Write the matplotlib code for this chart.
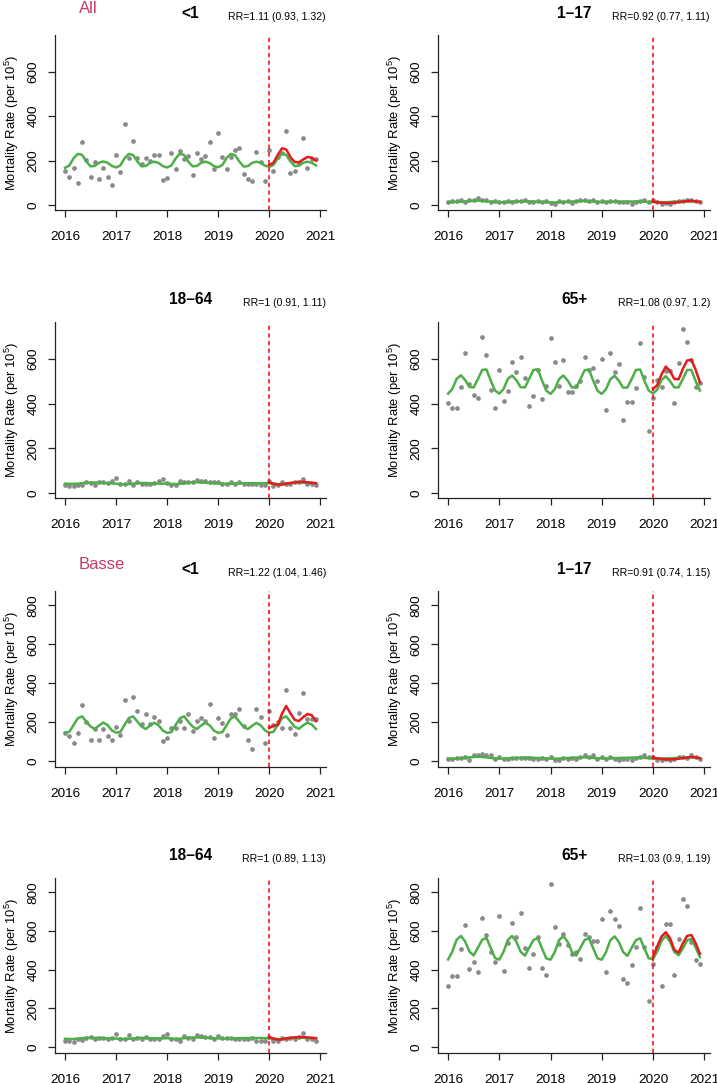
import numpy as np
import matplotlib.pyplot as plt

plt.rcParams['font.family'] = ['Liberation Sans', 'DejaVu Sans']
plt.rcParams['mathtext.default'] = 'regular'

# monthly time axis, Jan 2016 - Dec 2020
t = 2016 + np.arange(60) / 12.0
t2020 = t[48:]

years = [2016, 2017, 2018, 2019, 2020, 2021]
yticks_all = [0, 200, 400, 600]
yticks_basse = [0, 200, 400, 600, 800]

#
# All
#
all_lt1_obs = [154, 128, 167, 101, 284, 204, 128, 194, 116, 167, 128, 88,
               225, 149, 363, 212, 288, 212, 185, 212, 200, 225, 225, 112,
               122, 233, 160, 245, 206, 221, 134, 233, 207, 219, 284, 160,
               324, 215, 161, 215, 248, 258, 140, 119, 107, 237, 194, 107,
               246, 154, 215, 232, 333, 143, 154, 187, 300, 166, 205, 209]
all_lt1_fit = [167, 178, 210, 230, 226, 196, 174, 176, 190, 196, 190, 176,
               169, 178, 210, 230, 225, 196, 174, 176, 190, 195, 189, 175,
               169, 178, 209, 231, 225, 195, 174, 176, 190, 195, 189, 175,
               170, 180, 212, 230, 224, 195, 173, 175, 190, 195, 190, 177,
               172, 180, 210, 232, 225, 196, 175, 177, 190, 195, 190, 178]
all_lt1_2020 = [180, 190, 225, 255, 250, 215, 193, 192, 205, 216, 213, 200]

all_1_17_obs = [15, 18, 18, 21, 15, 25, 25, 30, 25, 21, 15, 18,
                15, 15, 18, 15, 18, 18, 21, 15, 12, 18, 12, 18,
                10, 7, 18, 12, 18, 10, 18, 21, 21, 18, 25, 15,
                18, 12, 18, 18, 12, 12, 15, 7, 15, 18, 21, 12,
                21, 12, 7, 10, 7, 12, 18, 18, 21, 25, 18, 12]
all_1_17_fit = [13, 13, 14, 15, 16, 18, 19, 20, 19, 17, 15, 14,
                13, 13, 14, 15, 16, 16, 17, 17, 16, 15, 14, 13,
                12, 12, 13, 14, 15, 16, 17, 18, 18, 17, 16, 15,
                14, 14, 14, 15, 15, 15, 16, 16, 16, 16, 15, 14,
                14, 13, 13, 13, 14, 15, 16, 17, 17, 17, 16, 15]
all_1_17_2020 = [15, 13, 11, 10, 10, 11, 13, 16, 18, 19, 17, 14]

all_18_64_obs = [34, 31, 30, 37, 37, 51, 46, 37, 51, 51, 46, 54,
                 67, 40, 40, 54, 34, 48, 40, 40, 40, 45, 54, 61,
                 45, 37, 37, 54, 51, 48, 51, 57, 54, 54, 51, 48,
                 51, 42, 42, 48, 40, 48, 42, 42, 40, 40, 37, 37,
                 54, 31, 34, 51, 42, 42, 48, 48, 61, 42, 42, 34]
all_18_64_fit = [42, 41, 41, 42, 44, 46, 47, 47, 46, 45, 44, 43,
                 42, 40, 39, 40, 42, 44, 45, 45, 44, 43, 42, 42,
                 43, 41, 40, 41, 43, 46, 48, 48, 47, 46, 45, 44,
                 43, 42, 41, 41, 42, 43, 44, 44, 44, 44, 44, 44,
                 44, 42, 40, 40, 42, 44, 46, 46, 46, 45, 45, 44]
all_18_64_2020 = [47, 42, 38, 38, 42, 45, 47, 50, 50, 48, 46, 44]

all_65_obs = [402, 378, 378, 473, 625, 485, 438, 426, 697, 615, 462, 378,
              551, 411, 457, 585, 539, 609, 515, 387, 433, 548, 421, 479,
              691, 584, 476, 596, 453, 453, 480, 500, 608, 550, 560, 500,
              600, 372, 624, 540, 576, 325, 408, 408, 468, 672, 518, 277,
              426, 506, 473, 543, 545, 404, 581, 735, 675, 595, 473, 493]
all_65_fit = [444, 465, 510, 526, 505, 474, 472, 510, 550, 552, 502, 458,
              444, 465, 510, 525, 504, 473, 472, 510, 550, 553, 503, 458,
              443, 464, 509, 525, 503, 472, 471, 509, 549, 552, 502, 457,
              443, 464, 508, 524, 502, 471, 471, 509, 550, 552, 502, 458,
              445, 462, 505, 522, 500, 472, 472, 510, 550, 550, 500, 458]
all_65_2020 = [465, 482, 530, 565, 545, 510, 508, 555, 592, 596, 550, 495]

#
# Basse
#
basse_lt1_obs = [146, 127, 91, 146, 290, 200, 110, 163, 110, 163, 127, 110,
                 173, 135, 312, 206, 329, 259, 189, 242, 190, 225, 207, 105,
                 120, 171, 171, 206, 170, 240, 154, 206, 223, 206, 291, 120,
                 223, 194, 135, 240, 240, 269, 178, 106, 62, 269, 225, 91,
                 259, 183, 200, 168, 367, 168, 139, 245, 351, 214, 214, 214]
basse_lt1_fit = [146, 150, 185, 220, 230, 203, 178, 165, 183, 198, 185, 158,
                 146, 150, 186, 221, 230, 203, 177, 165, 183, 197, 184, 157,
                 145, 149, 185, 220, 230, 202, 177, 165, 183, 197, 184, 157,
                 145, 149, 185, 220, 229, 202, 176, 164, 182, 196, 184, 158,
                 146, 150, 186, 220, 230, 203, 176, 166, 184, 197, 188, 165]
basse_lt1_2020 = [170, 182, 185, 243, 283, 245, 212, 206, 226, 242, 236, 205]

basse_1_17_obs = [12, 12, 17, 17, 21, 3, 29, 29, 38, 29, 29, 12,
                  21, 12, 12, 17, 17, 17, 17, 17, 12, 12, 17, 12,
                  21, 7, 7, 17, 12, 17, 12, 21, 29, 21, 29, 12,
                  21, 12, 21, 12, 7, 12, 12, 3, 17, 21, 29, 21,
                  21, 7, 3, 12, 7, 12, 21, 21, 17, 29, 21, 12]
basse_1_17_fit = [12, 12, 13, 15, 17, 19, 21, 22, 21, 19, 16, 14,
                  13, 13, 14, 15, 16, 17, 18, 18, 17, 16, 15, 14,
                  13, 12, 13, 14, 16, 17, 18, 19, 19, 18, 16, 15,
                  14, 14, 14, 15, 16, 17, 17, 18, 18, 17, 16, 15,
                  14, 13, 13, 13, 14, 15, 17, 18, 19, 19, 17, 15]
basse_1_17_2020 = [16, 14, 11, 9, 9, 10, 12, 15, 18, 21, 19, 15]

basse_18_64_obs = [31, 31, 26, 43, 36, 48, 52, 43, 48, 48, 43, 48,
                   69, 43, 40, 60, 40, 48, 40, 52, 40, 40, 40, 57,
                   69, 43, 40, 31, 55, 48, 43, 62, 55, 52, 52, 43,
                   55, 48, 48, 48, 40, 40, 43, 40, 48, 31, 34, 31,
                   52, 34, 31, 48, 43, 48, 43, 52, 74, 43, 40, 34]
basse_18_64_fit = [43, 42, 42, 44, 46, 48, 49, 48, 47, 46, 45, 44,
                   44, 43, 42, 43, 45, 47, 48, 47, 46, 46, 45, 45,
                   46, 44, 42, 43, 46, 49, 50, 50, 49, 48, 47, 46,
                   45, 44, 43, 44, 45, 46, 47, 47, 47, 47, 47, 46,
                   46, 44, 42, 42, 44, 46, 48, 48, 48, 47, 47, 46]
basse_18_64_2020 = [50, 44, 38, 40, 45, 48, 50, 52, 52, 50, 48, 46]

basse_65_obs = [314, 369, 369, 508, 634, 402, 440, 386, 668, 580, 491, 440,
                677, 391, 536, 640, 570, 694, 515, 409, 481, 570, 409, 373,
                841, 622, 531, 586, 529, 481, 494, 455, 586, 568, 548, 548,
                664, 388, 702, 664, 628, 350, 331, 424, 517, 721, 517, 240,
                429, 520, 316, 635, 635, 373, 561, 764, 730, 541, 448, 429]
basse_65_fit = [453, 494, 555, 575, 546, 494, 474, 515, 555, 565, 512, 460,
                452, 493, 554, 575, 545, 493, 473, 514, 554, 564, 511, 459,
                452, 492, 553, 574, 545, 493, 473, 514, 554, 564, 511, 459,
                452, 492, 552, 573, 544, 492, 472, 513, 553, 563, 510, 459,
                455, 495, 550, 575, 545, 492, 475, 510, 552, 560, 515, 465]
basse_65_2020 = [469, 520, 572, 594, 563, 503, 489, 537, 575, 580, 537, 482]

ages = ['<1', '1\u201317', '18\u201364', '65+']
rr_all = ['RR=1.11 (0.93, 1.32)', 'RR=0.92 (0.77, 1.11)',
          'RR=1 (0.91, 1.11)', 'RR=1.08 (0.97, 1.2)']
rr_basse = ['RR=1.22 (1.04, 1.46)', 'RR=0.91 (0.74, 1.15)',
            'RR=1 (0.89, 1.13)', 'RR=1.03 (0.9, 1.19)']

series_all = [(all_lt1_obs, all_lt1_fit, all_lt1_2020),
              (all_1_17_obs, all_1_17_fit, all_1_17_2020),
              (all_18_64_obs, all_18_64_fit, all_18_64_2020),
              (all_65_obs, all_65_fit, all_65_2020)]
series_basse = [(basse_lt1_obs, basse_lt1_fit, basse_lt1_2020),
                (basse_1_17_obs, basse_1_17_fit, basse_1_17_2020),
                (basse_18_64_obs, basse_18_64_fit, basse_18_64_2020),
                (basse_65_obs, basse_65_fit, basse_65_2020)]

# layout in pixels
W, H = 717, 1083
cols = [(55, 326), (438, 710)]
rows = [(35, 210), (322, 498), (591, 767), (878, 1053)]

fig = plt.figure(figsize=(W / 100.0, H / 100.0), dpi=100)


def region_ylim(series):
    vals = np.concatenate([np.concatenate([np.asarray(s) for s in trio]) for trio in series])
    lo, hi = vals.min(), vals.max()
    pad = 0.04 * (hi - lo)
    return (lo - pad, hi + pad)


def plot_panel(pos, obs, fit, fit20, ylim, yticks, title, rr, label=None):
    (left, right), (top, bottom) = pos
    ax = fig.add_axes([left / W, 1 - bottom / H, (right - left) / W, (bottom - top) / H])
    h = float(bottom - top)

    ax.plot(t, obs, 'o', color='#8a8a8a', ms=3.4, mec='none', zorder=2)
    ax.plot(t, fit, '-', color='#4daf4a', lw=1.8, zorder=3)
    ax.plot(t2020, fit20, '-', color='#e41a1c', lw=1.8, zorder=4)
    ax.axvline(2020, color='red', lw=1.1, dashes=(2.8, 2.2), zorder=5)

    span = t[-1] - t[0]
    ax.set_xlim(t[0] - 0.04 * span, t[-1] + 0.04 * span)
    ax.set_ylim(ylim)
    ax.set_xticks(years)
    ax.set_yticks(yticks)

    ax.spines['right'].set_visible(False)
    ax.spines['top'].set_visible(False)
    for s in ('left', 'bottom'):
        ax.spines[s].set_linewidth(0.9)
        ax.spines[s].set_color('#222222')
    ax.tick_params(direction='out', length=4.8, width=0.9, color='#222222', labelsize=9.7)
    ax.tick_params(axis='x', pad=10.0)
    ax.tick_params(axis='y', pad=6.5, labelrotation=90)
    for lab in ax.get_yticklabels():
        lab.set_va('center')

    ax.set_ylabel('Mortality Rate (per 10$^{5}$)', fontsize=9.4)
    ax.yaxis.set_label_coords(-34.0 / (right - left), 0.5)

    ax.text(0.5, 1 + 17.5 / h, title, transform=ax.transAxes, ha='center',
            va='baseline', fontsize=11.2, fontweight='bold')
    ax.text(1.0, 1 + 15.5 / h, rr, transform=ax.transAxes, ha='right',
            va='baseline', fontsize=7.6)
    if label is not None:
        ax.text((79 - left) / float(right - left), 1 + 22.0 / h, label,
                transform=ax.transAxes, ha='left', va='baseline',
                fontsize=12, color='#c43b6e')
    return ax


for r, (region, series, rrs) in enumerate([('All', series_all, rr_all),
                                          ('Basse', series_basse, rr_basse)]):
    ylim = region_ylim(series)
    yticks = yticks_all if region == 'All' else yticks_basse
    for k in range(4):
        row = rows[2 * r + k // 2]
        col = cols[k % 2]
        obs, fit, fit20 = series[k]
        plot_panel((col, row), obs, fit, fit20, ylim, yticks, ages[k], rrs[k],
                   label=region if k == 0 else None)

fig.savefig('out.png', dpi=100)
